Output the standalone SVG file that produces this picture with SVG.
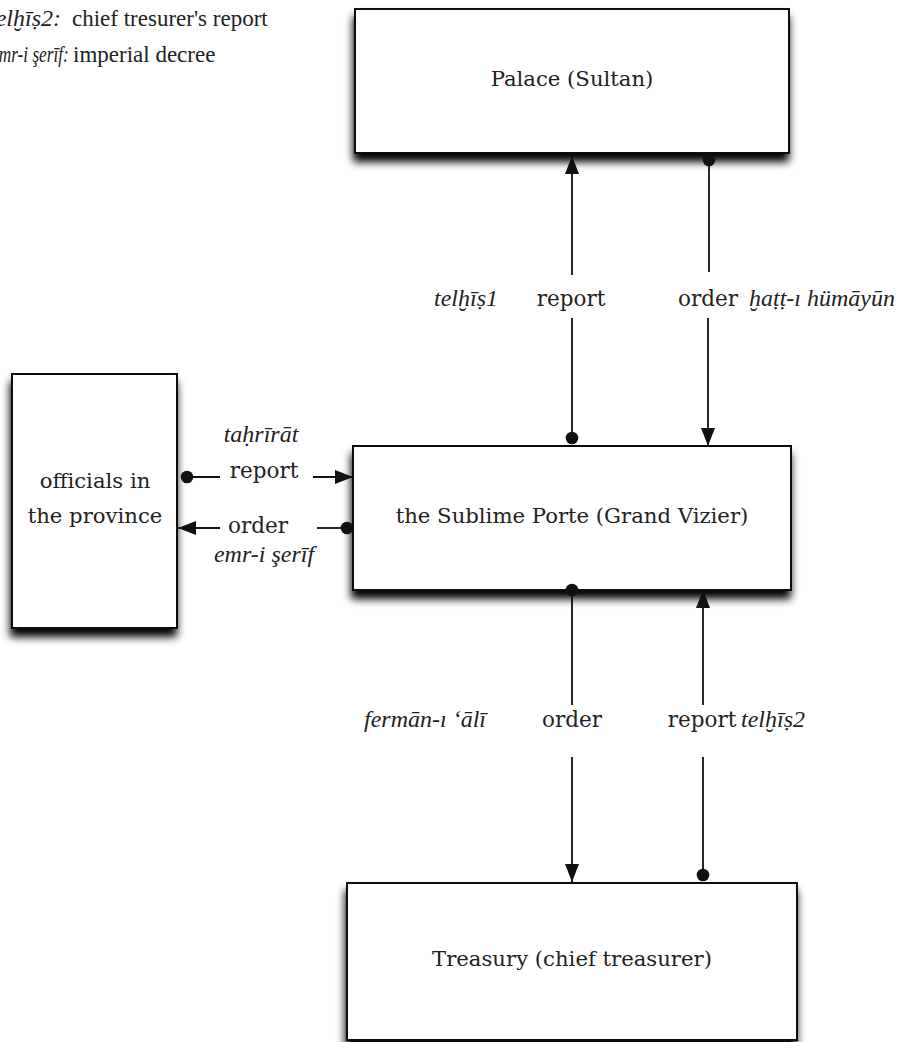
<svg xmlns="http://www.w3.org/2000/svg" width="909" height="1042" viewBox="0 0 909 1042">
<style>
.box{fill:#fff;stroke:#111;stroke-width:2;filter:url(#sh)}
.node{font-family:"DejaVu Serif","Liberation Serif",serif;font-size:21.2px;fill:#222;text-anchor:middle}
.lab{font-family:"DejaVu Serif","Liberation Serif",serif;font-size:21.5px;fill:#222;text-anchor:middle}
.it{font-family:"Liberation Serif","Times New Roman",serif;font-style:italic;font-size:24px;fill:#222}
.leg{font-family:"Liberation Serif","Times New Roman",serif;font-size:23px;fill:#222}
.c{stroke:#111;stroke-width:1.8;fill:none}
</style>
<defs>
<filter id="sh" x="-10%" y="-10%" width="120%" height="130%">
<feDropShadow dx="-1" dy="8" stdDeviation="4" flood-color="#000" flood-opacity="1"/>
</filter>
<marker id="arr" markerUnits="userSpaceOnUse" markerWidth="18" markerHeight="14" refX="18" refY="7" orient="auto">
<path d="M0,0 L18,7 L0,14 z" fill="#111"/>
</marker>
<marker id="dot" markerUnits="userSpaceOnUse" markerWidth="14" markerHeight="14" refX="7" refY="7">
<circle cx="7" cy="7" r="6.3" fill="#111"/>
</marker>
</defs>
<rect width="909" height="1042" fill="#fff"/>

<g id="legend">
<text class="it" x="61" y="26" text-anchor="end">telḫīṣ2:</text>
<text class="leg" x="72" y="26">chief tresurer's report</text>
<text class="it" transform="translate(-9,62) scale(0.72,1)" x="0" y="0" font-size="21">emr-i şerīf:</text>
<text class="leg" x="73" y="62">imperial decree</text>
</g>

<g id="palace">
<rect class="box" x="355" y="9" width="434" height="144"/>
<text class="node" x="572" y="86">Palace (Sultan)</text>
</g>

<g id="porte">
<rect class="box" x="353" y="446" width="438" height="144"/>
<text class="node" x="572" y="523">the Sublime Porte (Grand Vizier)</text>
</g>

<g id="officials">
<rect class="box" x="12" y="374" width="165" height="254"/>
<text class="node" x="95" y="488">officials in</text>
<text class="node" x="95" y="523">the province</text>
</g>

<g id="treasury">
<rect class="box" x="347" y="883" width="450" height="157"/>
<text class="node" x="572" y="966">Treasury (chief treasurer)</text>
</g>

<g id="connectors">
<line class="c" x1="572" y1="438" x2="572" y2="318" marker-start="url(#dot)"/>
<line class="c" x1="572" y1="275" x2="572" y2="156" marker-end="url(#arr)"/>
<line class="c" x1="709" y1="160" x2="709" y2="272" marker-start="url(#dot)"/>
<line class="c" x1="708" y1="318" x2="708" y2="446" marker-end="url(#arr)"/>
<line class="c" x1="572" y1="590" x2="572" y2="705" marker-start="url(#dot)"/>
<line class="c" x1="572" y1="757" x2="572" y2="882" marker-end="url(#arr)"/>
<line class="c" x1="703" y1="875" x2="703" y2="757" marker-start="url(#dot)"/>
<line class="c" x1="703" y1="705" x2="703" y2="590" marker-end="url(#arr)"/>
<line class="c" x1="187" y1="477" x2="220" y2="477" marker-start="url(#dot)"/>
<line class="c" x1="313" y1="477" x2="353" y2="477" marker-end="url(#arr)"/>
<line class="c" x1="347" y1="528" x2="317" y2="528" marker-start="url(#dot)"/>
<line class="c" x1="220" y1="528" x2="178" y2="528" marker-end="url(#arr)"/>
</g>

<g id="labels">
<text class="lab" x="571" y="306">report</text>
<text class="lab" x="708" y="306">order</text>
<text class="it" x="466" y="306" text-anchor="middle">telḫīṣ1</text>
<text class="it" x="749" y="306">ḫaṭṭ-ı hümāyūn</text>
<text class="lab" x="572" y="727">order</text>
<text class="lab" x="702" y="727">report</text>
<text class="it" x="425" y="727" text-anchor="middle">fermān-ı ‘ālī</text>
<text class="it" x="741" y="727" font-size="23">telḫīṣ2</text>
<text class="lab" x="264" y="478">report</text>
<text class="lab" x="258" y="533">order</text>
<text class="it" x="261" y="442" text-anchor="middle">taḥrīrāt</text>
<text class="it" x="264" y="562" text-anchor="middle" font-size="25">emr-i şerīf</text>
</g>
</svg>
